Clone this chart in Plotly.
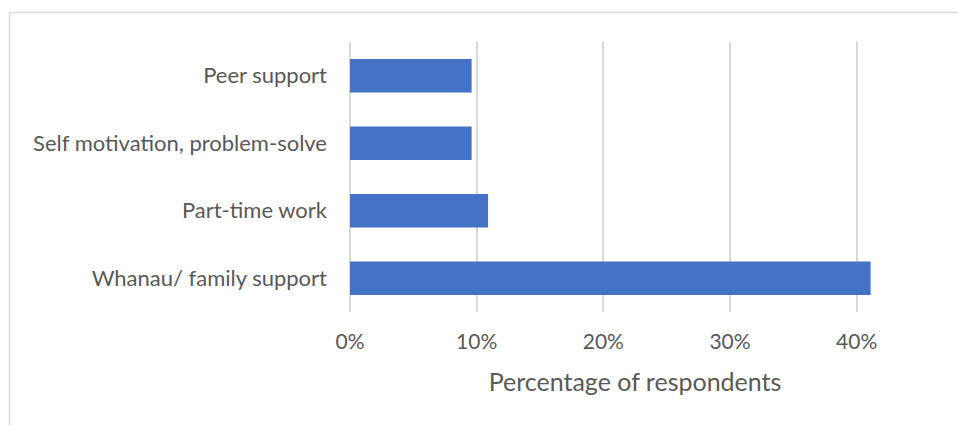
import plotly.graph_objects as go

categories = ["Whanau/ family support", "Part-time work", "Self motivation, problem-solve", "Peer support"]
values = [0.411, 0.109, 0.096, 0.096]
tick_vals = [0, 0.1, 0.2, 0.3, 0.4]
tick_text = ["0%", "10%", "20%", "30%", "40%"]

FONT = "Lato, Open Sans, sans-serif"
GREY = "#595959"

L, R, T, B = 350, 38, 42, 113
PW, PH = 958 - L - R, 425 - T - B

fig = go.Figure(go.Bar(
    y=categories, x=values, orientation="h",
    marker=dict(color="#4472C4", line=dict(width=0)),
))

fig.update_layout(
    width=958, height=425,
    margin=dict(l=L, r=R, t=T, b=B),
    paper_bgcolor="white", plot_bgcolor="white",
    bargap=0.505,
    showlegend=False,
    font=dict(family=FONT, size=22, color=GREY),
    xaxis=dict(
        range=[0, 0.45], tickvals=tick_vals, ticktext=tick_text,
        showgrid=True, gridcolor="#d9d9d9", gridwidth=1.5,
        zeroline=True, zerolinecolor="#d9d9d9", zerolinewidth=1.5,
        showline=False, ticks="", ticklabelstandoff=15,
        tickfont=dict(size=21, color=GREY, family=FONT),
        title=dict(text="Percentage of respondents", font=dict(size=25, color=GREY, family=FONT), standoff=21),
    ),
    yaxis=dict(
        showgrid=False, showline=False, ticks="", ticklabelstandoff=22,
        tickfont=dict(size=22, color=GREY, family=FONT),
    ),
    shapes=[
        dict(type="line", xref="paper", yref="paper", x0=(9.5 - L) / PW, x1=(958 - L) / PW,
             y0=(425 - B - 12.5) / PH, y1=(425 - B - 12.5) / PH,
             line=dict(color="#d9d9d9", width=1.5)),
        dict(type="line", xref="paper", yref="paper", x0=(9.5 - L) / PW, x1=(9.5 - L) / PW,
             y0=(425 - B - 12.5) / PH, y1=-B / PH,
             line=dict(color="#d9d9d9", width=1.5)),
    ],
)

fig.write_html("out.html", config={"displayModeBar": False},
               post_script="document.body.style.margin='0px';document.body.style.overflow='hidden';")
